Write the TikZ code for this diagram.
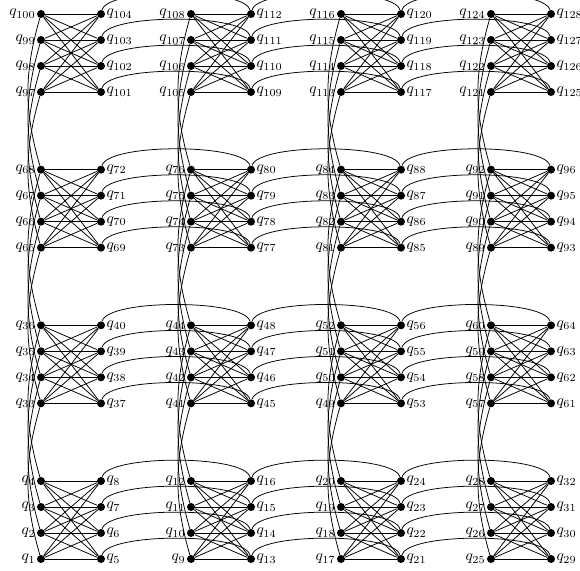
\documentclass[tikz,border=0pt]{standalone}
\usetikzlibrary{positioning}

\begin{document}
\begin{tikzpicture}[
    x=0.65pt,y=0.65pt,
    qubit/.style={circle,fill=black,inner sep=0pt,minimum size=5.2pt},
    qlabel/.style={inner sep=0.6pt},
    coupler/.style={line width=0.5pt}
]
\useasboundingbox (0,0) rectangle (580,571);

% Qubits: 4x4 unit cells, left column and right column of each cell
\foreach \r in {0,...,3}
  \foreach \c in {0,...,3}
    \foreach \k in {0,...,3} {
      \pgfmathtruncatemacro{\nl}{8*(4*\r+\c)+\k+1}
      \pgfmathtruncatemacro{\nr}{\nl+4}
      \pgfmathsetmacro{\yy}{12+155.67*\r+26*\k}
      \node[qubit,label={[qlabel]left:$q_{\nl}$}] (l-\r-\c-\k) at ({41+150*\c},\yy) {};
      \node[qubit,label={[qlabel]right:$q_{\nr}$}] (r-\r-\c-\k) at ({101+150*\c},\yy) {};
    }

% Couplers inside each cell
\foreach \r in {0,...,3}
  \foreach \c in {0,...,3}
    \foreach \i in {0,...,3}
      \foreach \j in {0,...,3}
        \draw[coupler] (l-\r-\c-\i) -- (r-\r-\c-\j);

% Couplers between neighbouring cells in a row
\foreach \r in {0,...,3}
  \foreach \c/\cc in {0/1,1/2,2/3}
    \foreach \k in {0,...,3}
      \draw[coupler] (r-\r-\c-\k) to[out=75,in=105,looseness=0.4] (r-\r-\cc-\k);

% Couplers between neighbouring cells in a column
\foreach \r/\rr in {0/1,1/2,2/3}
  \foreach \c in {0,...,3}
    \foreach \k in {0,...,3}
      \draw[coupler] (l-\r-\c-\k) to[bend left=16] (l-\rr-\c-\k);

\end{tikzpicture}
\end{document}
